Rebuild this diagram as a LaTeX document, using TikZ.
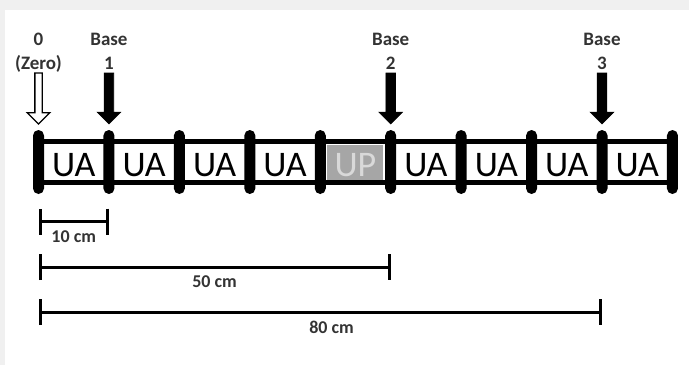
\documentclass[tikz,border=0pt]{standalone}
\usepackage{fontspec}
\setmainfont{Carlito}
\usetikzlibrary{positioning,shapes.arrows,arrows.meta}

\begin{document}
\begin{tikzpicture}[node distance=1.72pt,
  post/.style={rectangle,rounded corners=5.5pt,fill=black,minimum width=11pt,minimum height=64pt,inner sep=0pt,outer sep=0pt},
  cell/.style={rectangle,minimum width=56pt,minimum height=35pt,inner sep=0pt,outer sep=0pt,text height=28pt,text depth=0pt,font=\fontsize{36}{36}\selectfont},
  unused/.style={cell,fill=black!35,text=black!15},
  rail/.style={line width=5pt},
  marker/.style={single arrow,shape border rotate=270,fill=black,draw=black,line width=.6pt,inner sep=4.5pt,outer sep=0pt,single arrow head extend=7pt,minimum height=51pt},
  zeromarker/.style={marker,fill=white,line width=1.3pt,inner sep=3pt,single arrow head extend=7.6pt},
  tag/.style={align=center,inner sep=0pt,text depth=0pt,text=black!80,font=\fontsize{19}{24}\selectfont\bfseries},
  dim/.style={line width=3pt,{Bar[width=26pt]}-{Bar[width=26pt]}},
  dimlabel/.style={inner sep=0pt,text depth=0pt,text=black!80,font=\fontsize{18}{18}\selectfont\bfseries}
  ]
  \fill[black!6] (0,0) rectangle (689pt,-365pt);
  \fill[white] (5pt,-10pt) rectangle (689pt,-365pt);

  \node[post] (p0) at (38.5pt,-162pt) {};
  \node[cell,right=of p0] (c1) {UA};
  \node[post,right=of c1] (p1) {};
  \node[cell,right=of p1] (c2) {UA};
  \node[post,right=of c2] (p2) {};
  \node[cell,right=of p2] (c3) {UA};
  \node[post,right=of c3] (p3) {};
  \node[cell,right=of p3] (c4) {UA};
  \node[post,right=of c4] (p4) {};
  \node[unused,right=of p4] (c5) {UP};
  \node[post,right=of c5] (p5) {};
  \node[cell,right=of p5] (c6) {UA};
  \node[post,right=of c6] (p6) {};
  \node[cell,right=of p6] (c7) {UA};
  \node[post,right=of c7] (p7) {};
  \node[cell,right=of p7] (c8) {UA};
  \node[post,right=of c8] (p8) {};
  \node[cell,right=of p8] (c9) {UA};
  \node[post,right=of c9] (p9) {};

  \draw[rail] ([yshift=20.5pt]p0.center) -- ([yshift=20.5pt]p9.center);
  \draw[rail] ([yshift=-20.5pt]p0.center) -- ([yshift=-20.5pt]p9.center);

  \node[zeromarker,above=6pt of p0,anchor=tip] (a0) {};
  \node[marker,above=6pt of p1,anchor=tip] (a1) {};
  \node[marker,above=6pt of p5,anchor=tip] (a2) {};
  \node[marker,above=6pt of p8,anchor=tip] (a3) {};

  \node[tag,above=60pt of p0] (zero) {0\\(Zero)};
  \node[tag,above=60pt of p1] (base1) {Base\\1};
  \node[tag,above=60pt of p5] (base2) {Base\\2};
  \node[tag,above=60pt of p8] (base3) {Base\\3};

  % measures under the track
  \coordinate[below=27.7pt of p0] (m1);
  \coordinate[below=73pt of p0] (m2);
  \coordinate[below=118pt of p0] (m3);
  \draw[dim] (m1) -- (m1 -| p1) node[dimlabel,midway,below=7.5pt] (l10) {10 cm};
  \draw[dim] (m2) -- (m2 -| p5) node[dimlabel,midway,below=7.5pt] (l50) {50 cm};
  \draw[dim] (m3) -- (m3 -| p8) node[dimlabel,pos=.52,below=7.5pt] (l80) {80 cm};
\end{tikzpicture}
\end{document}
